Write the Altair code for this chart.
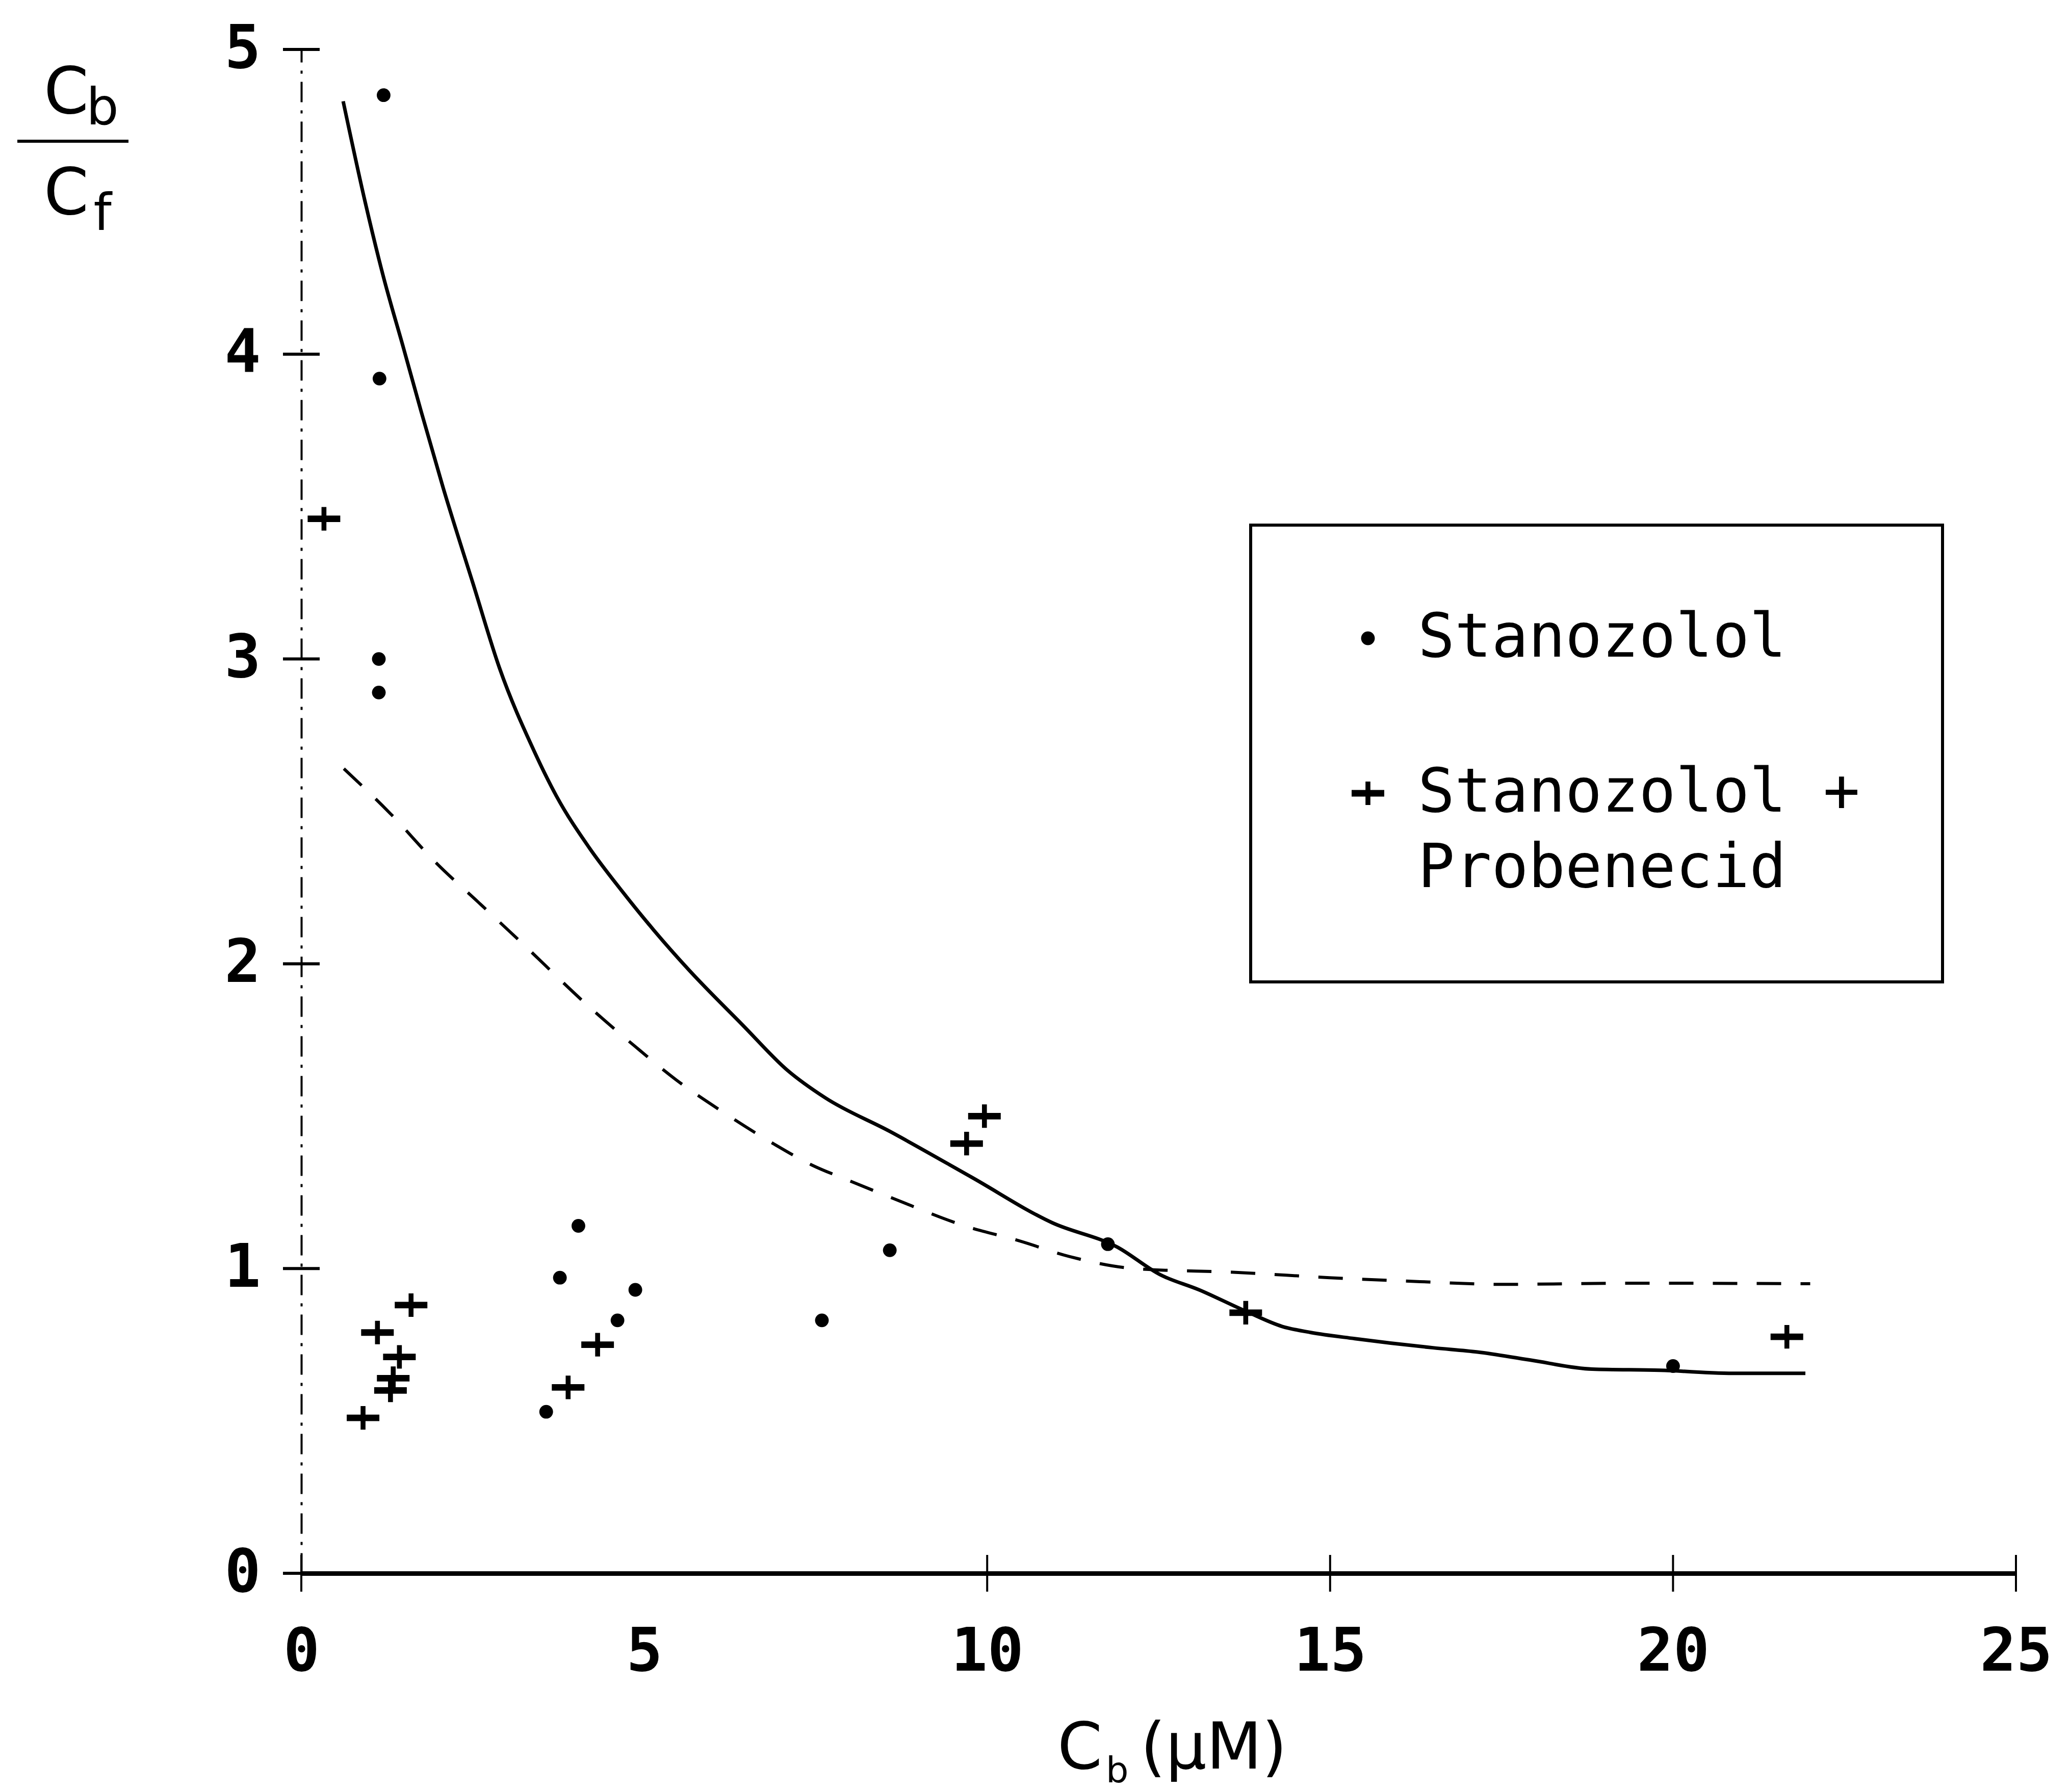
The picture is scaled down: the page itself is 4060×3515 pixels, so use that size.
import altair as alt
import pandas as pd

# Stanozolol alone: bound concentration (uM) and bound/free ratio
stan_cb = [1.20, 1.14, 1.13, 1.13, 3.57, 3.77, 4.04, 4.61, 4.87, 7.59, 8.58, 11.76, 20.0]
stan_ratio = [4.85, 3.92, 3.00, 2.89, 0.53, 0.97, 1.14, 0.83, 0.93, 0.83, 1.06, 1.08, 0.68]

# Stanozolol + Probenecid
prob_cb = [0.33, 0.90, 1.11, 1.30, 1.34, 1.43, 1.60, 3.89, 4.32, 9.70, 9.96, 13.77, 21.66]
prob_ratio = [3.46, 0.51, 0.79, 0.60, 0.64, 0.71, 0.88, 0.61, 0.75, 1.41, 1.50, 0.855, 0.776]

# Fitted Scatchard curve, stanozolol alone (solid)
fit_a_cb = [0.61, 0.93, 1.19, 1.49, 1.75, 2.07, 2.50, 2.89, 3.39, 3.72, 4.20, 4.67, 5.14,
            5.65, 6.43, 7.09, 7.64, 8.58, 9.77, 10.95, 11.90, 12.52, 13.09, 13.77, 14.30,
            14.72, 15.36, 16.50, 17.15, 17.91, 18.82, 19.81, 20.94, 21.93]
fit_a_ratio = [4.83, 4.50, 4.26, 4.02, 3.81, 3.56, 3.25, 2.97, 2.70, 2.55, 2.38, 2.24, 2.11,
               1.98, 1.80, 1.65, 1.56, 1.45, 1.30, 1.15, 1.07, 0.98, 0.93, 0.86, 0.81,
               0.79, 0.77, 0.74, 0.726, 0.70, 0.67, 0.666, 0.656, 0.656]

# Fitted curve, stanozolol + probenecid (dashed)
fit_b_cb = [0.62, 1.31, 1.97, 2.59, 3.16, 4.24, 4.86, 5.46, 6.17, 6.88, 7.44, 7.97, 8.63,
            9.67, 10.48, 11.19, 12.14, 13.66, 14.99, 16.31, 17.49, 19.43, 22.0]
fit_b_ratio = [2.64, 2.49, 2.33, 2.20, 2.08, 1.85, 1.73, 1.62, 1.51, 1.41, 1.34, 1.29, 1.23,
               1.14, 1.09, 1.04, 1.00, 0.987, 0.97, 0.957, 0.948, 0.952, 0.95]

series_names = ["Stanozolol", "Stanozolol + Probenecid"]
x_ticks = [0, 5, 10, 15, 20, 25]
x_tick_marks = [0, 10, 15, 20, 25]
y_ticks = [0, 1, 2, 3, 4, 5]

points = pd.DataFrame({
    "cb": stan_cb + prob_cb,
    "ratio": stan_ratio + prob_ratio,
    "series": [series_names[0]] * len(stan_cb) + [series_names[1]] * len(prob_cb),
})
fit_a = pd.DataFrame({"cb": fit_a_cb, "ratio": fit_a_ratio})
fit_b = pd.DataFrame({"cb": fit_b_cb, "ratio": fit_b_ratio})

MONO = "DejaVu Sans Mono"
SANS = "DejaVu Sans"

# symbol paths in the unit square: small dot and a wide plus
DOT = "M0.42,0A0.42,0.42,0,1,1,-0.42,0A0.42,0.42,0,1,1,0.42,0Z"
PLUS = "M-1,-0.2H-0.15V-0.72H0.15V-0.2H1V0.2H0.15V0.72H-0.15V0.2H-1Z"
SYM_SIZE = 4096

x_scale = alt.Scale(domain=[0, 25], nice=False, zero=False)
y_scale = alt.Scale(domain=[0, 5], nice=False, zero=False)

x_axis = alt.Axis(values=x_ticks, format="d", title=None, grid=False, ticks=False, tickSize=0,
                  domainColor="black", domainWidth=9, labelFont=MONO, labelFontSize=118,
                  labelFontWeight="bold", labelColor="black", labelPadding=190,
                  labelBaseline="alphabetic", labelFlush=False)
y_axis = alt.Axis(values=y_ticks, format="d", title=None, grid=False, ticks=False, tickSize=0,
                  domainColor="black", domainWidth=4, domainDash=[40, 16, 6, 16],
                  labelFont=MONO, labelFontSize=118, labelFontWeight="bold",
                  labelColor="black", labelPadding=80)

X = alt.X("cb:Q", scale=x_scale, axis=x_axis)
Y = alt.Y("ratio:Q", scale=y_scale, axis=y_axis)

line_a = alt.Chart(fit_a).mark_line(color="black", strokeWidth=7, interpolate="monotone").encode(x=X, y=Y)
line_b = alt.Chart(fit_b).mark_line(color="black", strokeWidth=6, strokeDash=[48, 38],
                                    interpolate="monotone").encode(x=X, y=Y)

dots = alt.Chart(points).mark_point(filled=True, color="black", size=SYM_SIZE, opacity=1,
                                     strokeWidth=0).encode(
    x=X, y=Y,
    shape=alt.Shape("series:N",
                    scale=alt.Scale(domain=series_names, range=[DOT, PLUS]),
                    legend=alt.Legend(
                        title=None, orient="none", legendX=1862, legendY=933,
                        padding=162, symbolOffset=8, labelOffset=38, rowPadding=184,
                        labelFont=MONO, labelFontSize=120, labelColor="black",
                        labelLimit=3000, labelBaseline="middle",
                        symbolSize=SYM_SIZE, symbolFillColor="black", symbolStrokeWidth=0,
                        strokeColor="black",
                        labelExpr="datum.label == 'Stanozolol + Probenecid' ? ['Stanozolol +\u00a0', 'Probenecid'] : datum.label",
                    )),
)

ytick_marks = alt.Chart(pd.DataFrame({"ratio": y_ticks})).mark_tick(
    orient="horizontal", size=72, thickness=6, color="black", opacity=1).encode(
    x=alt.datum(0, scale=x_scale), y=Y)
xtick_marks = alt.Chart(pd.DataFrame({"cb": x_tick_marks})).mark_tick(
    orient="vertical", size=72, thickness=4, color="black", opacity=1).encode(
    x=X, y=alt.datum(0, scale=y_scale))

one = pd.DataFrame({"k": [0]})


def label(text, px, py, size, font=SANS, align="left"):
    return alt.Chart(one).mark_text(text=text, font=font, fontSize=size, align=align,
                                    baseline="alphabetic", color="black").encode(
        x=alt.value(px), y=alt.value(py))


# y-axis title: C_b over C_f
frac_bar = alt.Chart(one).mark_rule(color="black", strokeWidth=6).encode(
    x=alt.value(-557), x2=alt.value(-339), y=alt.value(180))
y_title = [
    label("C", -461, 125, 126, align="center"),
    label("b", -390, 147, 100, align="center"),
    frac_bar,
    label("C", -461, 323, 126, align="center"),
    label("f", -390, 354, 100, align="center"),
]
# x-axis title: C_b (uM)
x_title = [
    label("C", 1483, 3372, 126),
    label("b", 1578, 3399, 70),
    label("(\u03bcM)", 1646, 3372, 126),
]

chart = alt.layer(line_a, line_b, dots, ytick_marks, xtick_marks, *y_title, *x_title).properties(
    width=3363, height=2989,
    autosize=alt.AutoSizeParams(type="none"),
    padding={"left": 591, "top": 97, "right": 106, "bottom": 429},
    background="white",
).configure(
    style={"guide-label": {"lineHeight": 148}}
).configure_view(stroke=None).configure_legend(strokeWidth=6)

chart.save("out.html", embed_options={"renderer": "svg", "actions": False})
